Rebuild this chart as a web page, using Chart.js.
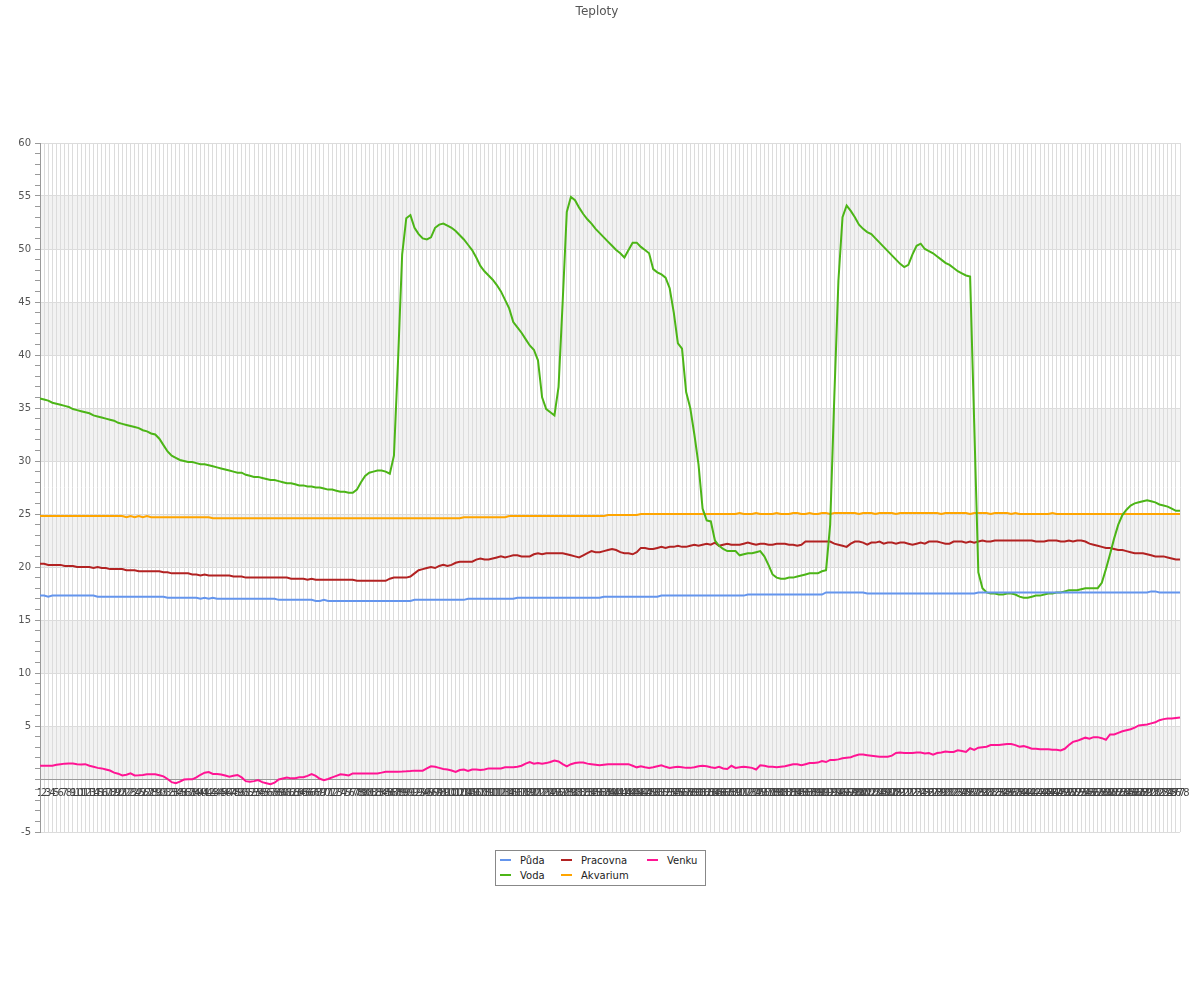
<!DOCTYPE html>
<html><head><meta charset="utf-8">
<script src="https://cdn.jsdelivr.net/npm/chart.js@4/dist/chart.umd.min.js"></script>
<style>
html,body{margin:0;padding:0;background:#fff;}
#wrap{position:relative;width:1200px;height:1000px;}
canvas{display:block;}
#legend{position:absolute;left:495px;top:850px;width:209px;height:34px;border:1px solid #888;font:10px "DejaVu Sans",sans-serif;color:#222;background:#fff;}
.item{position:absolute;height:14px;line-height:14px;white-space:nowrap;}
.item i{display:inline-block;width:11px;height:2px;vertical-align:middle;margin-right:9px;position:relative;top:-1px;}
</style>
</head><body>
<div id="wrap">
<canvas id="c" width="1200" height="1000"></canvas>
<div id="legend"></div>
</div>
<script>
const title = "Teploty";
const seriesNames = ["Půda", "Voda", "Pracovna", "Akvarium", "Venku"];

const puda = [
17.3,17.3,17.2,17.3,17.3,17.3,17.3,17.3,17.3,17.3,17.3,17.3,17.3,17.3,17.2,17.2,17.2,17.2,17.2,17.2,17.2,17.2,17.2,17.2,17.2,17.2,17.2,
17.2,17.2,17.2,17.2,17.1,17.1,17.1,17.1,17.1,17.1,17.1,17.1,17.0,17.1,17.0,17.1,17.0,17.0,17.0,17.0,17.0,17.0,17.0,17.0,17.0,
17.0,17.0,17.0,17.0,17.0,17.0,16.9,16.9,16.9,16.9,16.9,16.9,16.9,16.9,16.9,16.8,16.8,16.9,16.8,16.8,16.8,16.8,16.8,16.8,16.8,
16.8,16.8,16.8,16.8,16.8,16.8,16.8,16.8,16.8,16.8,16.8,16.8,16.8,16.8,16.9,16.9,16.9,16.9,16.9,16.9,16.9,16.9,16.9,
16.9,16.9,16.9,16.9,17.0,17.0,17.0,17.0,17.0,17.0,17.0,17.0,17.0,17.0,17.0,17.0,17.1,17.1,17.1,17.1,17.1,17.1,
17.1,17.1,17.1,17.1,17.1,17.1,17.1,17.1,17.1,17.1,17.1,17.1,17.1,17.1,17.1,17.2,17.2,17.2,17.2,17.2,17.2,17.2,17.2,17.2,17.2,17.2,17.2,17.2,17.2,
17.3,17.3,17.3,17.3,17.3,17.3,17.3,17.3,17.3,17.3,17.3,17.3,17.3,17.3,17.3,17.3,17.3,17.3,17.3,17.3,17.3,17.4,17.4,17.4,17.4,17.4,17.4,17.4,17.4,
17.4,17.4,17.4,17.4,17.4,17.4,17.4,17.4,17.4,17.4,17.4,
17.6,17.6,17.6,17.6,17.6,17.6,17.6,17.6,17.6,17.6,
17.5,17.5,17.5,17.5,17.5,17.5,17.5,17.5,17.5,17.5,17.5,17.5,17.5,17.5,17.5,17.5,17.5,17.5,17.5,17.5,17.5,17.5,17.5,17.5,17.5,17.5,17.5,
17.6,17.6,17.6,17.6,17.6,17.6,17.6,17.6,17.6,17.6,17.6,17.6,17.6,17.6,17.6,17.6,17.6,17.6,17.6,17.6,17.6,17.6,17.6,17.6,17.6,
17.6,17.6,17.6,17.6,17.6,17.6,17.6,17.6,17.6,17.6,17.6,17.6,17.6,17.6,17.6,17.6,17.6,17.7,17.7,17.6,17.6,17.6,17.6,17.6,17.6
];

const voda = [
35.9,35.8,35.7,35.5,35.4,35.3,35.2,35.1,34.9,34.8,34.7,34.6,34.5,34.3,34.2,34.1,34.0,33.9,33.8,33.6,33.5,33.4,33.3,33.2,33.1,32.9,32.8,
32.6,32.5,32.1,31.5,30.9,30.5,30.3,30.1,30.0,29.9,29.9,29.8,29.7,
29.7,29.6,29.5,29.4,29.3,29.2,29.1,29.0,28.9,28.9,28.7,28.6,
28.5,28.5,28.4,28.3,28.2,28.2,28.1,28.0,27.9,27.9,27.8,27.7,
27.7,27.6,27.6,27.5,27.5,27.4,27.3,27.3,27.2,27.1,27.1,27.0,27.0,
27.3,28.0,28.6,28.9,29.0,29.1,29.1,29.0,28.8,
30.5,39.5,49.5,52.9,53.2,52.0,51.4,51.0,50.9,51.1,52.0,52.3,52.4,52.2,
52.0,51.7,51.3,50.9,50.4,49.9,49.2,48.4,47.9,47.5,47.1,46.6,46.0,45.2,44.4,43.1,42.6,42.1,41.5,40.9,40.5,39.5,
36.0,34.9,34.6,34.3,37.0,45.0,53.5,54.9,54.6,53.9,53.3,52.8,52.4,51.9,51.5,
51.1,50.7,50.3,49.9,49.6,49.2,49.9,50.6,50.6,50.2,49.9,49.6,48.1,47.8,47.6,47.3,46.3,44.0,41.1,40.6,36.5,35.0,32.5,29.7,
25.5,24.4,24.3,22.5,22.0,21.7,21.5,21.5,21.5,21.1,21.2,21.3,21.3,21.4,21.5,21.0,20.2,19.3,19.0,18.9,18.9,19.0,19.0,19.1,19.2,19.3,19.4,19.4,19.4,19.6,19.7,
24.0,36.0,47.0,53.0,54.1,53.6,53.0,
52.3,51.9,51.6,51.4,51.0,50.6,50.2,49.8,49.4,49.0,48.6,48.3,48.5,49.5,50.3,50.5,50.0,49.8,49.6,49.3,49.0,48.7,48.5,48.2,47.9,47.7,47.5,
47.4,33.5,19.5,18.0,17.6,17.5,17.5,17.4,17.4,17.5,17.5,17.4,17.2,17.1,17.1,17.2,17.3,17.3,17.4,17.5,17.5,17.6,17.6,17.7,17.8,17.8,17.8,17.9,18.0,18.0,18.0,18.0,
18.5,19.8,21.2,22.7,24.0,24.9,25.4,25.8,26.0,26.1,26.2,26.3,26.2,26.1,25.9,25.8,25.7,25.5,25.3,25.3
];

const pracovna = [
20.3,20.3,20.2,20.2,20.2,20.2,20.1,20.1,20.1,20.0,20.0,20.0,20.0,19.9,20.0,
19.9,19.9,19.8,19.8,19.8,19.8,19.7,19.7,19.7,19.6,19.6,19.6,
19.6,19.6,19.6,19.5,19.5,19.4,19.4,19.4,19.4,19.4,19.3,19.3,
19.2,19.3,19.2,19.2,19.2,19.2,19.2,19.2,19.1,19.1,19.1,19.0,19.0,
19.0,19.0,19.0,19.0,19.0,19.0,19.0,19.0,19.0,18.9,18.9,18.9,
18.9,18.8,18.9,18.8,18.8,18.8,18.8,18.8,18.8,18.8,18.8,18.8,18.8,
18.7,18.7,18.7,18.7,18.7,18.7,18.7,18.7,18.9,
19.0,19.0,19.0,19.0,19.1,19.4,19.7,19.8,19.9,20.0,19.9,20.1,20.2,20.1,
20.2,20.4,20.5,20.5,20.5,20.5,20.7,20.8,20.7,20.7,20.8,20.9,21.0,20.9,21.0,21.1,21.1,21.0,21.0,21.0,21.2,21.3,
21.2,21.3,21.3,21.3,21.3,21.3,21.2,21.1,21.0,20.9,21.1,21.3,21.5,21.4,21.4,
21.5,21.6,21.7,21.6,21.4,21.3,21.3,21.2,21.4,21.8,21.8,21.7,21.7,21.8,21.9,21.8,21.9,21.9,22.0,21.9,21.9,22.0,22.1,22.0,
22.1,22.2,22.1,22.3,22.0,22.1,22.2,22.1,22.1,22.1,22.2,22.3,22.2,22.1,22.2,22.2,22.1,22.1,22.2,22.2,22.2,22.1,22.1,22.0,22.1,22.4,22.4,22.4,22.4,22.4,22.4,
22.4,22.2,22.1,22.0,21.9,22.2,22.4,
22.4,22.3,22.1,22.3,22.3,22.4,22.2,22.3,22.3,22.2,22.3,22.3,22.2,22.1,22.2,22.3,22.2,22.4,22.4,22.4,22.3,22.2,22.2,22.4,22.4,22.4,22.3,
22.4,22.3,22.4,22.5,22.4,22.4,22.5,22.5,22.5,22.5,22.5,22.5,22.5,22.5,22.5,22.5,22.4,22.4,22.4,22.5,22.5,22.5,22.4,22.4,22.5,22.4,22.5,22.5,22.4,22.2,22.1,22.0,
21.9,21.8,21.8,21.7,21.6,21.6,21.5,21.4,21.3,21.3,21.3,21.2,21.1,21.0,21.0,21.0,20.9,20.8,20.7,20.7
];

const akvarium = [
24.8,24.8,24.8,24.8,24.8,24.8,24.8,24.8,24.8,24.8,24.8,24.8,24.8,24.8,24.8,24.8,24.8,24.8,24.8,24.8,24.8,
24.7,24.8,24.7,24.8,24.7,24.8,24.7,24.7,24.7,
24.7,24.7,24.7,24.7,24.7,24.7,24.7,24.7,24.7,24.7,24.7,24.7,
24.6,24.6,24.6,24.6,24.6,24.6,24.6,24.6,24.6,24.6,24.6,24.6,24.6,24.6,24.6,24.6,24.6,24.6,24.6,24.6,
24.6,24.6,24.6,24.6,24.6,24.6,24.6,24.6,24.6,24.6,24.6,24.6,24.6,24.6,24.6,24.6,24.6,24.6,24.6,24.6,
24.6,24.6,24.6,24.6,24.6,24.6,24.6,24.6,24.6,24.6,24.6,24.6,24.6,24.6,24.6,24.6,24.6,24.6,24.6,24.6,24.6,
24.7,24.7,24.7,24.7,24.7,24.7,24.7,24.7,24.7,24.7,24.7,
24.8,24.8,24.8,24.8,24.8,24.8,24.8,24.8,24.8,24.8,24.8,24.8,24.8,24.8,24.8,24.8,24.8,24.8,24.8,24.8,24.8,24.8,24.8,24.8,
24.9,24.9,24.9,24.9,24.9,24.9,24.9,24.9,
25.0,25.0,25.0,25.0,25.0,25.0,25.0,25.0,25.0,25.0,25.0,25.0,25.0,25.0,25.0,25.0,25.0,25.0,25.0,25.0,25.0,25.0,
25.0,25.0,25.1,25.0,25.0,25.0,25.1,25.0,25.0,25.0,25.0,25.1,25.0,25.0,25.0,25.1,25.1,25.0,25.0,25.1,25.0,25.0,
25.1,25.1,25.0,25.1,25.1,25.1,25.1,25.1,25.1,25.0,25.1,25.1,25.1,25.0,25.1,25.1,25.1,25.1,25.0,25.1,25.1,25.1,
25.1,25.1,25.1,25.1,25.1,25.1,25.1,25.0,25.1,25.1,25.1,25.1,25.1,25.1,25.0,25.1,25.1,25.1,25.1,25.0,25.1,25.1,
25.1,25.1,25.0,25.1,25.0,25.0,25.0,25.0,25.0,25.0,25.0,25.0,25.1,25.0,25.0,25.0,25.0,25.0,25.0,25.0,25.0,25.0,
25.0,25.0,25.0,25.0,25.0,25.0,25.0,25.0,25.0,25.0,25.0,25.0,25.0,25.0,25.0,25.0,25.0,25.0,25.0,25.0,25.0,25.0
];

const venku = [
1.25,1.25,1.25,1.25,1.35,1.4,1.45,1.46,1.46,1.4,
1.37,1.4,1.25,1.15,1.05,1.0,0.9,0.8,0.6,0.5,
0.33,0.4,0.53,0.33,0.35,0.38,0.44,0.44,0.44,0.35,
0.25,0.0,-0.3,-0.4,-0.25,-0.05,-0.03,-0.03,0.15,0.4,
0.6,0.65,0.47,0.47,0.43,0.33,0.22,0.3,0.38,0.15,
-0.2,-0.25,-0.2,-0.1,-0.3,-0.4,-0.5,-0.35,-0.05,0.05,
0.13,0.06,0.08,0.16,0.16,0.3,0.47,0.3,0.02,-0.12,
0.0,0.15,0.3,0.45,0.4,0.33,0.53,0.53,0.53,0.53,
0.53,0.53,0.53,0.6,0.69,0.69,0.69,0.69,0.7,0.72,
0.75,0.79,0.79,0.79,1.0,1.2,1.15,1.05,0.95,0.9,
0.8,0.66,0.85,0.9,0.75,0.9,0.9,0.85,0.9,1.0,
1.0,1.0,1.0,1.1,1.1,1.1,1.15,1.25,1.45,1.6,
1.45,1.5,1.45,1.5,1.6,1.75,1.65,1.4,1.2,1.4,
1.5,1.55,1.55,1.45,1.4,1.35,1.3,1.35,1.4,1.4,
1.4,1.4,1.4,1.4,1.25,1.1,1.2,1.1,1.05,1.1,
1.2,1.3,1.15,1.05,1.1,1.15,1.1,1.05,1.05,1.1,
1.2,1.25,1.2,1.1,1.05,1.15,1.0,0.95,1.25,1.05,
1.1,1.15,1.1,1.05,0.9,1.3,1.25,1.15,1.15,1.1,
1.15,1.2,1.3,1.4,1.4,1.3,1.4,1.5,1.5,1.55,
1.7,1.6,1.8,1.8,1.85,1.95,2.0,2.05,2.2,2.3,
2.3,2.25,2.2,2.15,2.1,2.1,2.1,2.2,2.45,2.5,
2.45,2.45,2.45,2.5,2.5,2.4,2.45,2.3,2.45,2.5,
2.6,2.55,2.55,2.7,2.65,2.55,2.9,2.75,2.95,3.0,
3.05,3.2,3.2,3.2,3.25,3.3,3.3,3.2,3.05,3.1,
3.0,2.85,2.85,2.8,2.8,2.8,2.75,2.75,2.7,2.85,
3.2,3.5,3.6,3.75,3.9,3.8,3.95,3.95,3.85,3.7,
4.2,4.2,4.35,4.5,4.6,4.7,4.85,5.05,5.1,5.15,
5.25,5.35,5.55,5.65,5.7,5.7,5.75,5.8
];

// x tick labels: sample numbers 1..N
const labels = voda.map((_, i) => String(i + 1));

const colors = {
  "Půda": "#6495ED",
  "Voda": "#4CB517",
  "Pracovna": "#B22222",
  "Akvarium": "#FFA500",
  "Venku": "#FF1493"
};
const seriesData = { "Půda": puda, "Voda": voda, "Pracovna": pracovna, "Akvarium": akvarium, "Venku": venku };

const FONT = "'DejaVu Sans', sans-serif";
Chart.defaults.font.family = FONT;

const bandPlugin = {
  id: 'bands',
  beforeDraw(chart) {
    const { ctx, chartArea: a, scales: { y } } = chart;
    ctx.save();
    ctx.fillStyle = '#ffffff';
    ctx.fillRect(0, 0, chart.width, chart.height);
    ctx.fillStyle = '#f2f2f2';
    for (let lo = 0; lo < 60; lo += 10) {
      const t = y.getPixelForValue(lo + 5), b = y.getPixelForValue(lo);
      ctx.fillRect(a.left, t, a.right - a.left, b - t);
    }
    ctx.restore();
  }
};

new Chart(document.getElementById('c'), {
  type: 'line',
  data: {
    labels: labels,
    datasets: seriesNames.map(n => ({
      label: n,
      data: seriesData[n],
      borderColor: colors[n],
      backgroundColor: colors[n],
      borderWidth: 2,
      pointRadius: 0,
      tension: 0,
      fill: false
    }))
  },
  options: {
    responsive: false,
    animation: false,
    devicePixelRatio: 1,
    layout: { padding: { left: 14, right: 20, top: 0, bottom: 168 } },
    plugins: {
      legend: { display: false },
      tooltip: { enabled: false },
      title: {
        display: true,
        text: title,
        color: '#555',
        font: { size: 12, weight: 'normal', family: FONT },
        padding: { top: 5, bottom: 123.6 }
      }
    },
    scales: {
      x: {
        type: 'category',
        position: { y: 0 },
        offset: false,
        grid: { color: '#dcdcdc', lineWidth: 1, drawTicks: false },
        border: { color: '#999' },
        ticks: { autoSkip: false, maxRotation: 0, minRotation: 0, padding: 8,
                 color: '#444', font: { size: 10, family: FONT } }
      },
      y: {
        type: 'linear',
        min: -5, max: 60,
        afterFit(s) { s.width = 26; },
        grid: {
          color: c => (c.tick && c.tick.value % 5 === 0) ? '#dcdcdc' : 'rgba(0,0,0,0)',
          tickColor: '#999',
          tickLength: 5
        },
        border: { color: '#999' },
        ticks: {
          stepSize: 1, autoSkip: false, padding: 4,
          color: '#555', font: { size: 10, family: FONT },
          callback: v => (v % 5 === 0 && v !== 0) ? String(v) : ''
        }
      }
    }
  },
  plugins: [bandPlugin]
});

// HTML legend (two rows, column-major like the original)
const legendPos = [
  ["Půda", 4, 3], ["Voda", 4, 18],
  ["Pracovna", 65, 3], ["Akvarium", 65, 18],
  ["Venku", 151, 3]
];
const lg = document.getElementById('legend');
legendPos.forEach(([n, l, t]) => {
  const d = document.createElement('div');
  d.className = 'item';
  d.style.left = l + 'px';
  d.style.top = t + 'px';
  d.innerHTML = '<i style="background:' + colors[n] + '"></i>' + n;
  lg.appendChild(d);
});
</script>
</body></html>
